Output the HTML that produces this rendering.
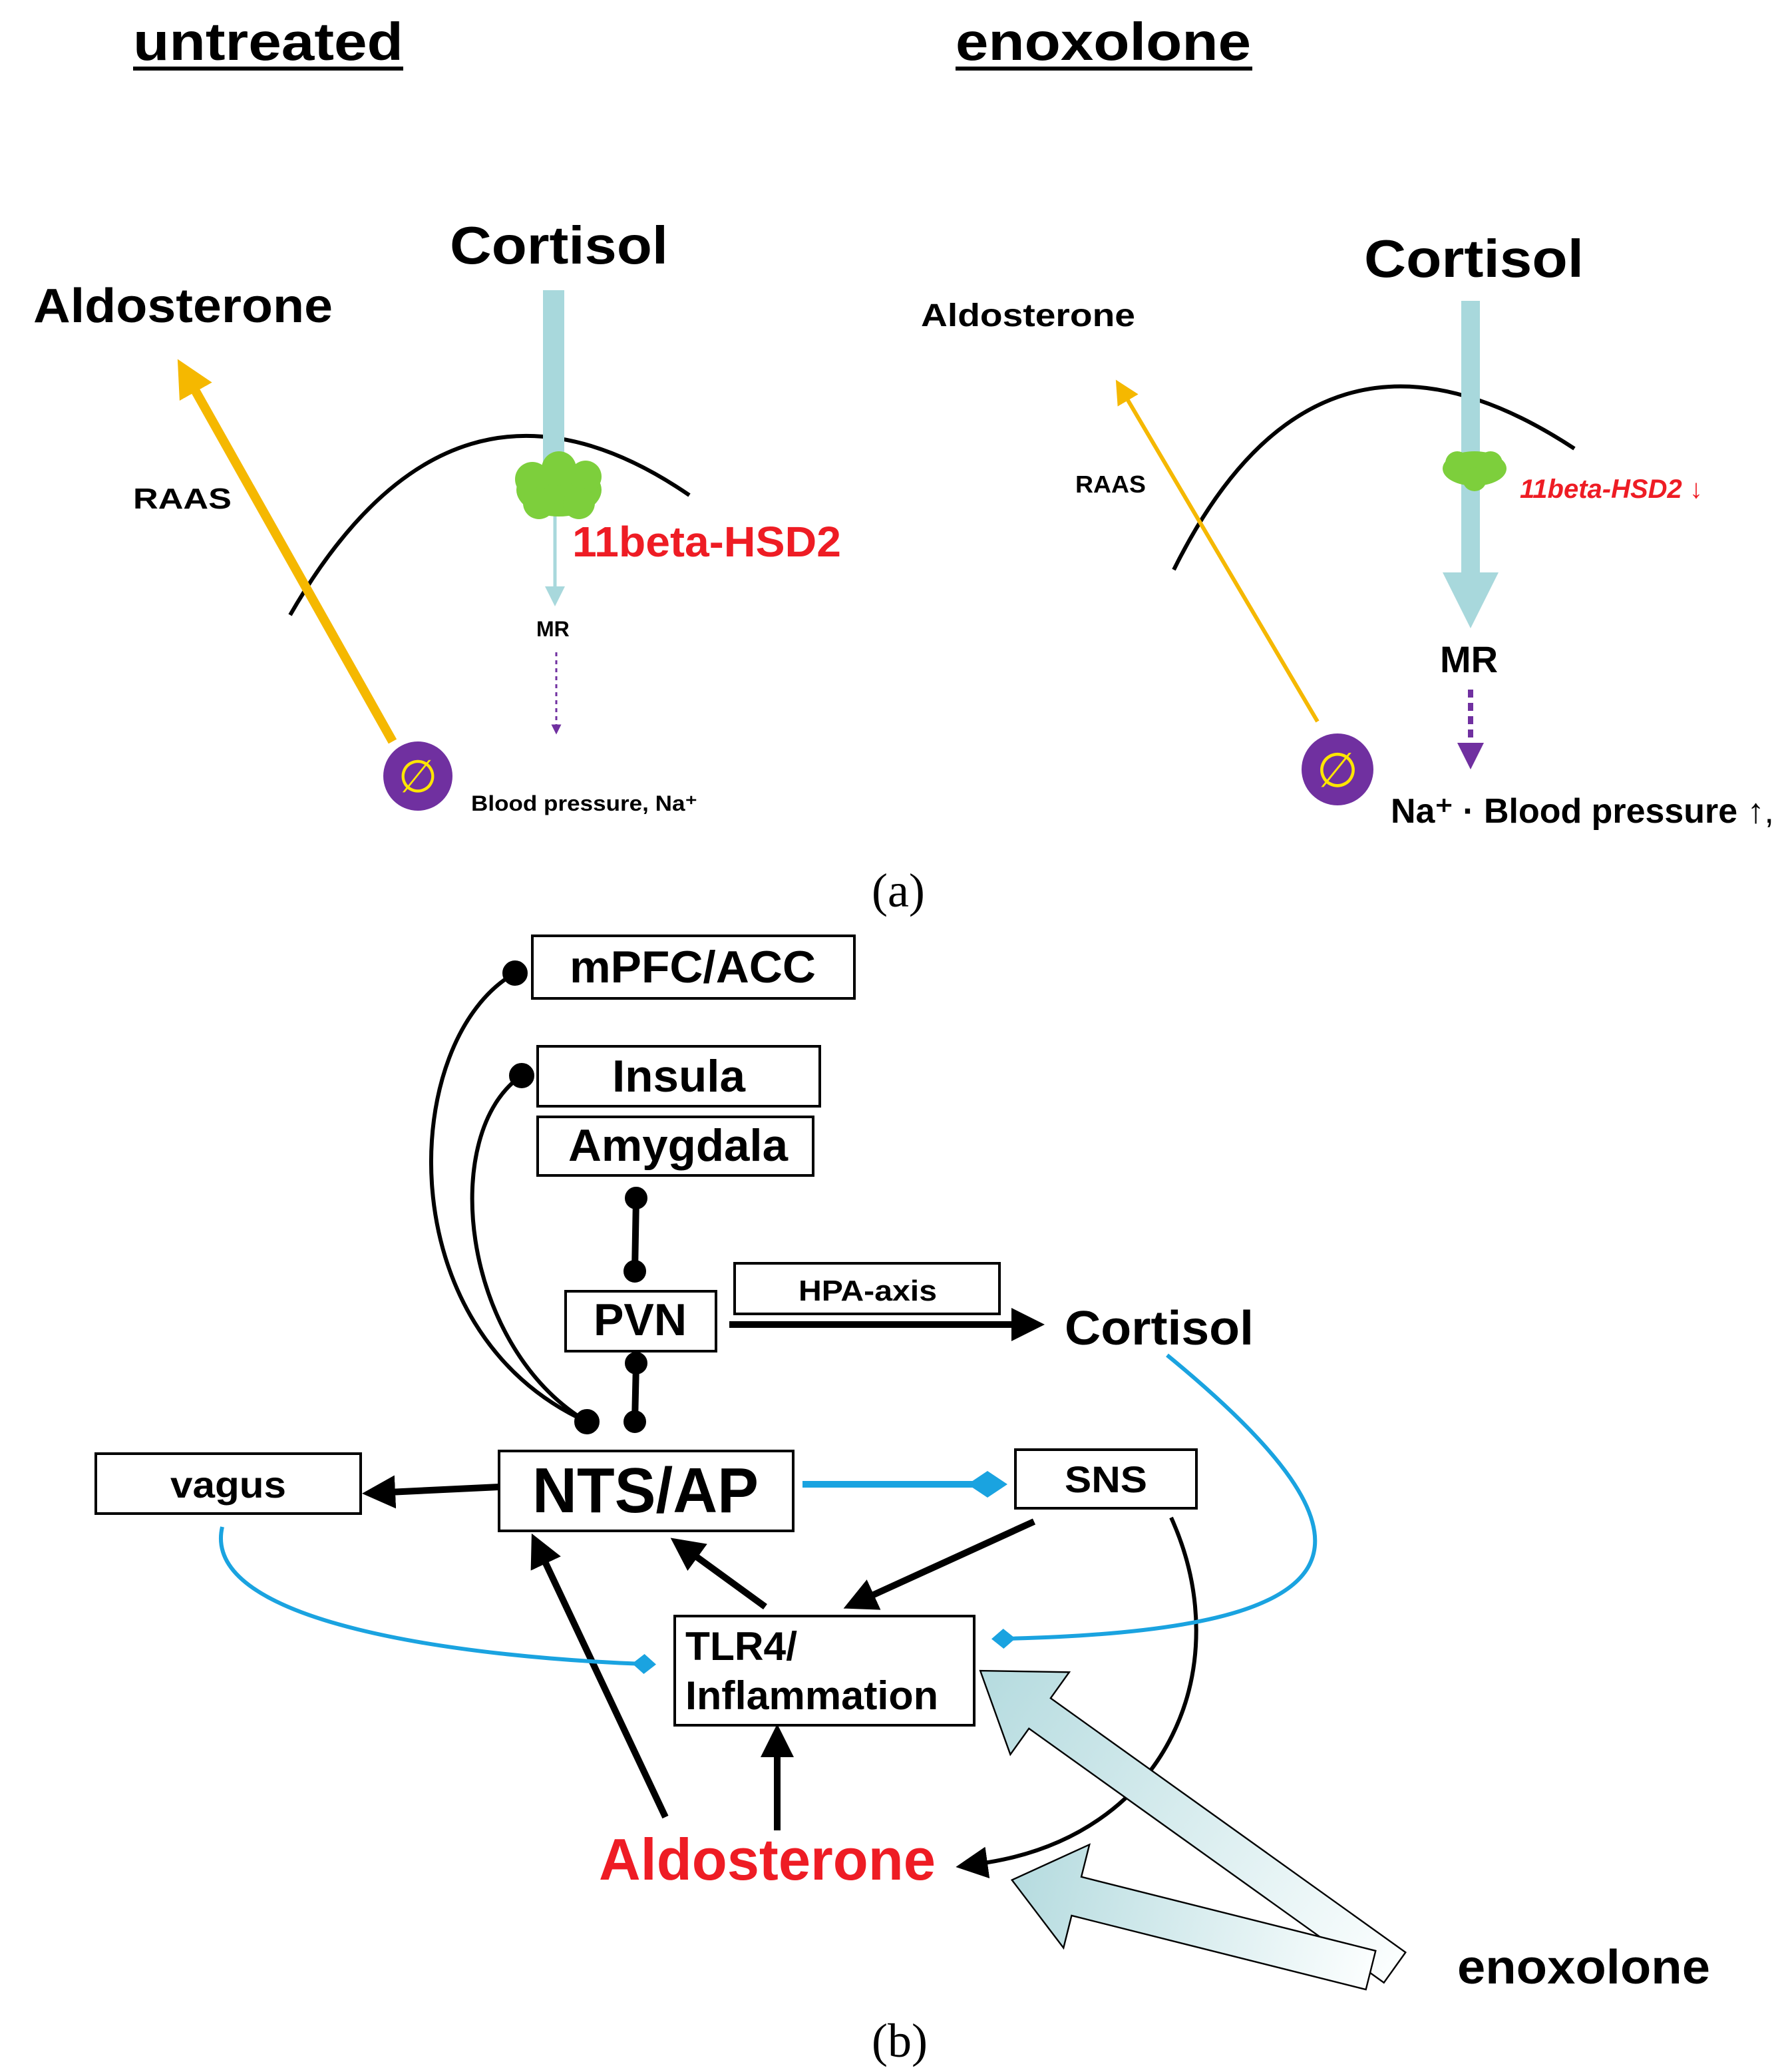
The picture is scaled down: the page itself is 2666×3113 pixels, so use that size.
<!DOCTYPE html>
<html><head><meta charset="utf-8"><style>html,body{margin:0;padding:0;background:#fff}svg{display:block}</style></head>
<body>
<svg width="2666" height="3113" viewBox="0 0 1333 1556.5" xmlns="http://www.w3.org/2000/svg" font-family="'Liberation Sans', Arial, sans-serif" font-weight="bold">
<defs>
<marker id="ay" markerWidth="6" markerHeight="6" refX="3" refY="3" orient="auto" markerUnits="strokeWidth"><path d="M0,0 L6,3 L0,6 z" fill="#f5b800"/></marker>
<marker id="ay2" markerWidth="4" markerHeight="4" refX="1.5" refY="2" orient="auto" markerUnits="strokeWidth"><path d="M0,0 L4,2 L0,4 z" fill="#f5b800"/></marker>
<marker id="ac" markerWidth="6" markerHeight="6" refX="3" refY="3" orient="auto" markerUnits="strokeWidth"><path d="M0,0 L6,3 L0,6 z" fill="#a8d8dc"/></marker>
<marker id="ap" markerWidth="5" markerHeight="5" refX="2.5" refY="2.5" orient="auto" markerUnits="strokeWidth"><path d="M0,0 L5,2.5 L0,5 z" fill="#7030a0"/></marker>
<marker id="ak" markerWidth="5" markerHeight="5" refX="1" refY="2.5" orient="auto" markerUnits="strokeWidth"><path d="M0,0 L5,2.5 L0,5 z" fill="#000"/></marker>
<marker id="ak2" markerWidth="8" markerHeight="8" refX="2" refY="4" orient="auto" markerUnits="strokeWidth"><path d="M0,0 L8,4 L0,8 z" fill="#000"/></marker>
<marker id="db" markerWidth="6" markerHeight="6" refX="3" refY="3" orient="auto" markerUnits="strokeWidth"><path d="M0,3 L3,1 L6,3 L3,5 z" fill="#1aa3e0"/></marker>
<marker id="db2" markerWidth="6" markerHeight="6" refX="3" refY="3" orient="auto" markerUnits="strokeWidth"><path d="M0,3 L3,0.5 L6,3 L3,5.5 z" fill="#1aa3e0"/></marker>
<linearGradient id="g1" gradientUnits="userSpaceOnUse" x1="383" y1="0" x2="0" y2="0"><stop offset="0" stop-color="#b5dbdf"/><stop offset="1" stop-color="#fbfefe"/></linearGradient>
<linearGradient id="g2" gradientUnits="userSpaceOnUse" x1="278" y1="0" x2="0" y2="0"><stop offset="0" stop-color="#b5dbdf"/><stop offset="1" stop-color="#fbfefe"/></linearGradient>
</defs>

<text x="100" y="45" font-size="40" textLength="203" lengthAdjust="spacingAndGlyphs">untreated</text>
<rect x="100" y="50" width="203" height="3" fill="#000"/>
<text x="718" y="45" font-size="40" textLength="222" lengthAdjust="spacingAndGlyphs">enoxolone</text>
<rect x="718" y="50" width="223" height="3" fill="#000"/>

<!-- (a) left -->
<text x="338" y="198" font-size="40" textLength="164" lengthAdjust="spacingAndGlyphs">Cortisol</text>
<text x="25" y="242" font-size="36" textLength="225" lengthAdjust="spacingAndGlyphs">Aldosterone</text>
<path d="M218,462 Q340,250 518,372" fill="none" stroke="#000" stroke-width="3"/>
<line x1="295" y1="557" x2="142" y2="285" stroke="#f5b800" stroke-width="7" marker-end="url(#ay2)"/>
<rect x="408" y="218" width="16" height="135" fill="#a8d8dc"/>
<line x1="417" y1="380" x2="417" y2="448" stroke="#a8d8dc" stroke-width="2.5" marker-end="url(#ac)"/>
<g fill="#7dcf3c"><ellipse cx="420" cy="368" rx="32" ry="20"/><circle cx="400" cy="360" r="13"/><circle cx="440" cy="358" r="12"/><circle cx="420" cy="352" r="13"/><circle cx="405" cy="378" r="12"/><circle cx="435" cy="378" r="12"/></g>
<text x="100" y="382" font-size="22" textLength="74" lengthAdjust="spacingAndGlyphs">RAAS</text>
<text x="430" y="418" font-size="32" fill="#ee1c24" textLength="202" lengthAdjust="spacingAndGlyphs">11beta-HSD2</text>
<text x="403" y="478" font-size="16">MR</text>
<line x1="418" y1="490" x2="418" y2="548" stroke="#7030a0" stroke-width="1.5" stroke-dasharray="3,3" marker-end="url(#ap)"/>
<circle cx="314" cy="583" r="26" fill="#7030a0"/>
<text x="314" y="595" font-size="34" fill="#ffe600" text-anchor="middle" font-weight="normal">∅</text>
<text x="354" y="609" font-size="16" textLength="170" lengthAdjust="spacingAndGlyphs">Blood pressure, Na⁺</text>

<!-- (a) right -->
<text x="1025" y="208" font-size="40" textLength="165" lengthAdjust="spacingAndGlyphs">Cortisol</text>
<text x="692" y="245" font-size="24" textLength="161" lengthAdjust="spacingAndGlyphs">Aldosterone</text>
<path d="M882,428 Q990,210 1183,337" fill="none" stroke="#000" stroke-width="3"/>
<line x1="990" y1="542" x2="843" y2="293" stroke="#f5b800" stroke-width="3" marker-end="url(#ay)"/>
<rect x="1098" y="226" width="14" height="206" fill="#a8d8dc"/>
<path d="M1084,430 L1126,430 L1105,472 z" fill="#a8d8dc"/>
<g fill="#7dcf3c"><ellipse cx="1108" cy="352" rx="24" ry="13"/><circle cx="1095" cy="348" r="9"/><circle cx="1120" cy="348" r="9"/><circle cx="1108" cy="360" r="9"/></g>
<text x="808" y="370" font-size="18" textLength="53" lengthAdjust="spacingAndGlyphs">RAAS</text>
<text x="1142" y="374" font-size="20" fill="#ee1c24" font-style="italic">11beta-HSD2 <tspan font-style="normal" font-weight="normal">↓</tspan></text>
<text x="1082" y="505" font-size="28">MR</text>
<line x1="1105" y1="518" x2="1105" y2="568" stroke="#7030a0" stroke-width="4" stroke-dasharray="6,4" marker-end="url(#ap)"/>
<circle cx="1005" cy="578" r="27" fill="#7030a0"/>
<text x="1005" y="591" font-size="36" fill="#ffe600" text-anchor="middle" font-weight="normal">∅</text>
<text x="1045" y="618" font-size="26" textLength="288" lengthAdjust="spacingAndGlyphs">Na⁺ · Blood pressure <tspan font-weight="normal">↑,</tspan></text>

<text x="655" y="681" font-size="36" font-weight="normal" font-family="'Liberation Serif', serif">(a)</text>

<!-- (b) -->
<g fill="none" stroke="#000" stroke-width="2">
<rect x="400" y="703" width="242" height="47"/>
<rect x="404" y="786" width="212" height="45"/>
<rect x="404" y="839" width="207" height="44"/>
<rect x="425" y="970" width="113" height="45"/>
<rect x="552" y="949" width="199" height="38"/>
<rect x="375" y="1090" width="221" height="60"/>
<rect x="72" y="1092" width="199" height="45"/>
<rect x="763" y="1089" width="136" height="44"/>
<rect x="507" y="1214" width="225" height="82"/>
</g>
<text x="428" y="738" font-size="34" textLength="185" lengthAdjust="spacingAndGlyphs">mPFC/ACC</text>
<text x="460" y="820" font-size="34" textLength="100" lengthAdjust="spacingAndGlyphs">Insula</text>
<text x="427" y="872" font-size="34" textLength="165" lengthAdjust="spacingAndGlyphs">Amygdala</text>
<text x="446" y="1003" font-size="34" textLength="70" lengthAdjust="spacingAndGlyphs">PVN</text>
<text x="600" y="977" font-size="22" textLength="104" lengthAdjust="spacingAndGlyphs">HPA-axis</text>
<text x="400" y="1136" font-size="48" textLength="170" lengthAdjust="spacingAndGlyphs">NTS/AP</text>
<text x="128" y="1125" font-size="28" textLength="87" lengthAdjust="spacingAndGlyphs">vagus</text>
<text x="800" y="1121" font-size="28" textLength="62" lengthAdjust="spacingAndGlyphs">SNS</text>
<text x="515" y="1247" font-size="30" textLength="84" lengthAdjust="spacingAndGlyphs">TLR4/</text>
<text x="515" y="1284" font-size="30" textLength="190" lengthAdjust="spacingAndGlyphs">Inflammation</text>
<text x="800" y="1010" font-size="36" textLength="142" lengthAdjust="spacingAndGlyphs">Cortisol</text>
<text x="450" y="1412" font-size="44" fill="#ee1c24" textLength="253" lengthAdjust="spacingAndGlyphs">Aldosterone</text>
<text x="1095" y="1490" font-size="36" textLength="190" lengthAdjust="spacingAndGlyphs">enoxolone</text>

<g fill="#000" stroke="#000">
<line x1="478" y1="900" x2="477" y2="955" stroke-width="5"/>
<circle cx="478" cy="900" r="8"/><circle cx="477" cy="955" r="8"/>
<line x1="478" y1="1024" x2="477" y2="1068" stroke-width="5"/>
<circle cx="478" cy="1024" r="8"/><circle cx="477" cy="1068" r="8"/>
<circle cx="387" cy="731" r="9"/><circle cx="392" cy="808" r="9"/><circle cx="441" cy="1068" r="9"/>
</g>
<path d="M387,731 C300,780 290,1000 441,1068" fill="none" stroke="#000" stroke-width="3"/>
<path d="M392,808 C330,850 345,1010 441,1068" fill="none" stroke="#000" stroke-width="3"/>

<line x1="548" y1="995" x2="765" y2="995" stroke="#000" stroke-width="5" marker-end="url(#ak)"/>
<line x1="375" y1="1117" x2="292" y2="1121" stroke="#000" stroke-width="5" marker-end="url(#ak)"/>
<line x1="575" y1="1207" x2="520" y2="1167" stroke="#000" stroke-width="5" marker-end="url(#ak)"/>
<line x1="777" y1="1143" x2="652" y2="1200" stroke="#000" stroke-width="5" marker-end="url(#ak)"/>
<line x1="500" y1="1365" x2="408" y2="1170" stroke="#000" stroke-width="5" marker-end="url(#ak)"/>
<line x1="584" y1="1375" x2="584" y2="1315" stroke="#000" stroke-width="5" marker-end="url(#ak)"/>
<path d="M880,1140 C930,1250 880,1380 736,1400" fill="none" stroke="#000" stroke-width="3" marker-end="url(#ak2)"/>

<line x1="603" y1="1115" x2="742" y2="1115" stroke="#1aa3e0" stroke-width="5" marker-end="url(#db)"/>
<path d="M167,1147 C150,1220 350,1245 484,1250" fill="none" stroke="#1aa3e0" stroke-width="3" marker-end="url(#db2)"/>
<path d="M877,1018 C1050,1160 1030,1225 754,1231" fill="none" stroke="#1aa3e0" stroke-width="3" marker-end="url(#db2)"/>

<polygon transform="translate(1048,1478) rotate(215.6)" points="0,-14 328,-14 328,-38 383,0 328,38 328,14 0,14" fill="url(#g1)" stroke="#000" stroke-width="1.2"/>
<polygon transform="translate(1030,1480) rotate(194.1)" points="0,-15 228,-15 228,-40 278,0 228,40 228,15 0,15" fill="url(#g2)" stroke="#000" stroke-width="1.2"/>

<text x="655" y="1545" font-size="36" font-weight="normal" font-family="'Liberation Serif', serif">(b)</text>
</svg>
</body></html>
